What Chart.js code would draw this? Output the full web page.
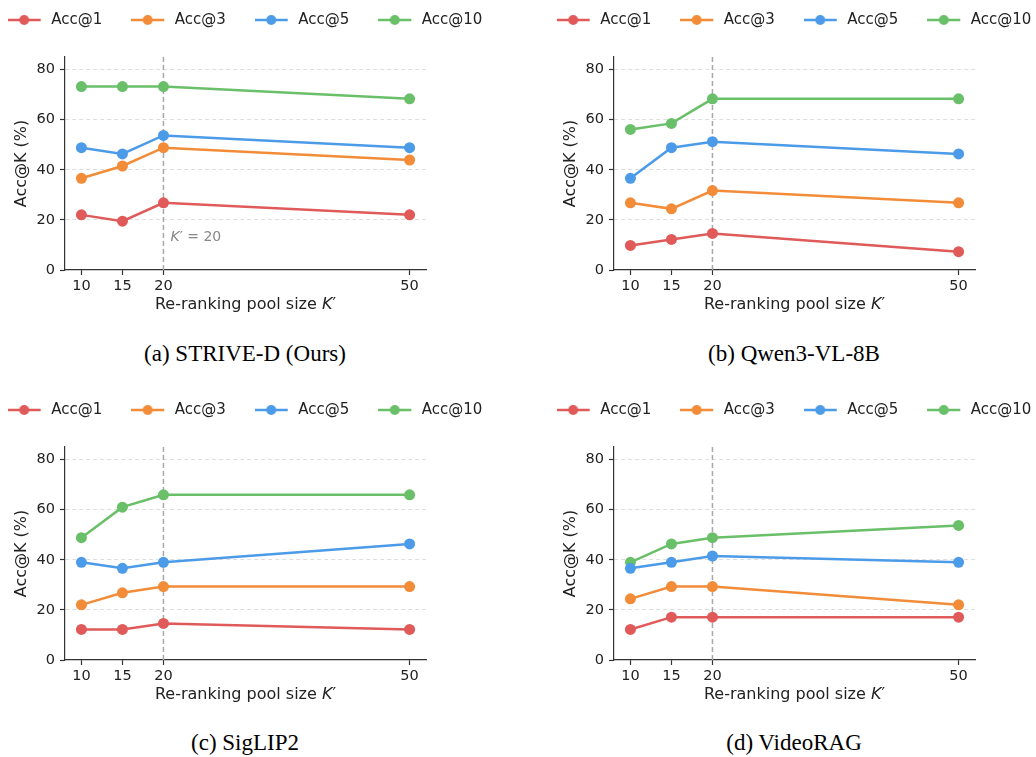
<!DOCTYPE html>
<html>
<head>
<meta charset="utf-8">
<script src="https://cdn.jsdelivr.net/npm/chart.js@4.4.1/dist/chart.umd.min.js"></script>
<style>
  body { margin: 0; background: #fff; width: 1036px; height: 757px; overflow: hidden; position: relative; }
  .panel { position: absolute; width: 550px; height: 320px; }
  .caption { position: absolute; width: 490px; text-align: center; font-family: "Liberation Serif", "Times New Roman", serif; font-size: 23px; line-height: 28px; color: #000; }
</style>
</head>
<body>
<div class="panel" style="left:-30px;top:0px"><canvas id="chartA"></canvas></div>
<div class="panel" style="left:519px;top:0px"><canvas id="chartB"></canvas></div>
<div class="panel" style="left:-30px;top:390px"><canvas id="chartC"></canvas></div>
<div class="panel" style="left:519px;top:390px"><canvas id="chartD"></canvas></div>
<div class="caption" style="left:0px;top:340px">(a) STRIVE-D (Ours)</div>
<div class="caption" style="left:549px;top:340px">(b) Qwen3-VL-8B</div>
<div class="caption" style="left:0px;top:729px">(c) SigLIP2</div>
<div class="caption" style="left:549px;top:729px">(d) VideoRAG</div>

<script>
// pool sizes K' on the x axis
const poolSizes = [10, 15, 20, 50];
const yTicks = [0, 20, 40, 60, 80];
const chosenK = 20;
const seriesNames = ["Acc@1", "Acc@3", "Acc@5", "Acc@10"];
const seriesColors = ["#e05a5a", "#f28c38", "#4c9be8", "#6abf69"];

// (a) STRIVE-D (Ours)
const striveAcc1 = [22.0, 19.5, 26.8, 22.0];
const striveAcc3 = [36.6, 41.5, 48.8, 43.9];
const striveAcc5 = [48.8, 46.3, 53.7, 48.8];
const striveAcc10 = [73.2, 73.2, 73.2, 68.3];

// (b) Qwen3-VL-8B
const qwenAcc1 = [9.8, 12.2, 14.6, 7.3];
const qwenAcc3 = [26.8, 24.4, 31.7, 26.8];
const qwenAcc5 = [36.6, 48.8, 51.2, 46.3];
const qwenAcc10 = [56.1, 58.5, 68.3, 68.3];

// (c) SigLIP2
const siglipAcc1 = [12.2, 12.2, 14.6, 12.2];
const siglipAcc3 = [22.0, 26.8, 29.3, 29.3];
const siglipAcc5 = [39.0, 36.6, 39.0, 46.3];
const siglipAcc10 = [48.8, 61.0, 65.9, 65.9];

// (d) VideoRAG
const videoragAcc1 = [12.2, 17.1, 17.1, 17.1];
const videoragAcc3 = [24.4, 29.3, 29.3, 22.0];
const videoragAcc5 = [36.6, 39.0, 41.5, 39.0];
const videoragAcc10 = [39.0, 46.3, 48.8, 53.7];

const FONT = "'DejaVu Sans', sans-serif";

// little line + dot picture for the legend
function legendIcon(color) {
    var c = document.createElement('canvas');
    c.width = 36;
    c.height = 14;
    var g = c.getContext('2d');
    g.strokeStyle = color;
    g.lineWidth = 2.5;
    g.beginPath();
    g.moveTo(0, 7);
    g.lineTo(33, 7);
    g.stroke();
    g.fillStyle = color;
    g.beginPath();
    g.arc(16.5, 7, 5, 0, Math.PI * 2);
    g.fill();
    return c;
}

// dashed line at K'=20, optional note, and the x title with italic K
const extrasPlugin = {
    id: 'extras',
    beforeDatasetsDraw(chart) {
        const ctx = chart.ctx;
        const area = chart.chartArea;
        const x = chart.scales.x.getPixelForValue(chosenK);
        ctx.save();
        ctx.strokeStyle = '#a8a8a8';
        ctx.lineWidth = 1.5;
        ctx.setLineDash([5, 3]);
        ctx.beginPath();
        ctx.moveTo(x, area.bottom);
        ctx.lineTo(x, area.top);
        ctx.stroke();
        ctx.restore();
    },
    afterDraw(chart) {
        const ctx = chart.ctx;
        const area = chart.chartArea;
        ctx.save();
        ctx.textBaseline = 'middle';
        ctx.fillStyle = '#222';

        // x axis title
        const p1 = 'Re-ranking pool size ', p2 = 'K', p3 = '\u2032';
        ctx.font = '16px ' + FONT;
        const w1 = ctx.measureText(p1).width;
        const w3 = ctx.measureText(p3).width;
        ctx.font = 'italic 16px ' + FONT;
        const w2 = ctx.measureText(p2).width;
        let tx = (area.left + area.right) / 2 - (w1 + w2 + w3) / 2;
        const ty = 305;
        ctx.font = '16px ' + FONT;
        ctx.fillText(p1, tx, ty);
        ctx.font = 'italic 16px ' + FONT;
        ctx.fillText(p2, tx + w1, ty);
        ctx.font = '16px ' + FONT;
        ctx.fillText(p3, tx + w1 + w2, ty);

        // note next to the dashed line
        if (chart.options.plugins.extras.showNote) {
            const nx = chart.scales.x.getPixelForValue(chosenK) + 7;
            const ny = chart.scales.y.getPixelForValue(13);
            ctx.fillStyle = '#888';
            ctx.font = 'italic 14px ' + FONT;
            ctx.fillText('K', nx, ny);
            const kw = ctx.measureText('K').width;
            ctx.font = '14px ' + FONT;
            ctx.fillText('\u2032 = 20', nx + kw, ny);
        }
        ctx.restore();
    }
};

function makePanel(id, acc1, acc3, acc5, acc10, showNote) {
    const all = [acc1, acc3, acc5, acc10];
    const datasets = all.map((vals, i) => ({
        label: seriesNames[i],
        data: poolSizes.map((k, j) => ({ x: k, y: vals[j] })),
        borderColor: seriesColors[i],
        backgroundColor: seriesColors[i],
        borderWidth: 2.5,
        pointRadius: 5.5,
        pointBorderWidth: 0,
        pointHoverRadius: 5.5
    }));

    return new Chart(document.getElementById(id), {
        type: 'line',
        data: { datasets: datasets },
        plugins: [extrasPlugin],
        options: {
            responsive: false,
            animation: false,
            devicePixelRatio: 1,
            layout: { padding: { top: -16.5, left: 0, right: 0, bottom: 0 } },
            scales: {
                x: {
                    type: 'linear',
                    min: 8,
                    max: 52,
                    afterBuildTicks: s => { s.ticks = poolSizes.map(v => ({ value: v })); },
                    afterFit: s => { s.height = 50; },
                    ticks: { color: '#222', font: { family: FONT, size: 14.5 }, padding: 3 },
                    grid: { drawOnChartArea: false, drawTicks: true, tickLength: 5, tickColor: '#333', tickWidth: 1.2 },
                    border: { color: '#333', width: 1.2 }
                },
                y: {
                    min: 0,
                    max: 85,
                    afterBuildTicks: s => { s.ticks = yTicks.map(v => ({ value: v })); },
                    afterFit: s => { s.width = 95; },
                    ticks: { color: '#222', font: { family: FONT, size: 14.5 }, padding: 5 },
                    grid: {
                        color: c => (c.tick && c.tick.value === 0) ? 'rgba(0,0,0,0)' : '#dedede',
                        lineWidth: 1,
                        tickLength: 5,
                        tickColor: '#333',
                        tickWidth: 1.2
                    },
                    border: { color: '#333', width: 1.2, dash: [4, 3] },
                    title: { display: true, text: 'Acc@K (%)', color: '#222', font: { family: FONT, size: 16 }, padding: { top: 42, bottom: 0 } }
                },
                // empty right box so the legend centres over the axes
                yPad: {
                    position: 'right',
                    display: true,
                    afterFit: s => { s.width = 94; },
                    ticks: { display: false },
                    grid: { display: false },
                    border: { display: false }
                }
            },
            plugins: {
                extras: { showNote: showNote },
                tooltip: { enabled: false },
                title: { display: true, text: '', font: { size: 1, lineHeight: 1 }, padding: { top: 0, bottom: 18.5 } },
                legend: {
                    position: 'top',
                    weight: 3000,
                    labels: {
                        usePointStyle: true,
                        pointStyleWidth: 36,
                        padding: 29,
                        color: '#222',
                        font: { family: FONT, size: 15 },
                        generateLabels: chart => chart.data.datasets.map((ds, i) => ({
                            text: ds.label,
                            pointStyle: legendIcon(ds.borderColor),
                            fillStyle: ds.borderColor,
                            strokeStyle: ds.borderColor,
                            lineWidth: 0,
                            hidden: false,
                            datasetIndex: i,
                            fontColor: '#222'
                        }))
                    }
                }
            }
        }
    });
}

function sizeCanvas(id) {
    const c = document.getElementById(id);
    c.width = 550;
    c.height = 320;
    c.style.width = '550px';
    c.style.height = '320px';
}

['chartA', 'chartB', 'chartC', 'chartD'].forEach(sizeCanvas);

makePanel('chartA', striveAcc1, striveAcc3, striveAcc5, striveAcc10, true);
makePanel('chartB', qwenAcc1, qwenAcc3, qwenAcc5, qwenAcc10, false);
makePanel('chartC', siglipAcc1, siglipAcc3, siglipAcc5, siglipAcc10, false);
makePanel('chartD', videoragAcc1, videoragAcc3, videoragAcc5, videoragAcc10, false);
</script>
</body>
</html>
